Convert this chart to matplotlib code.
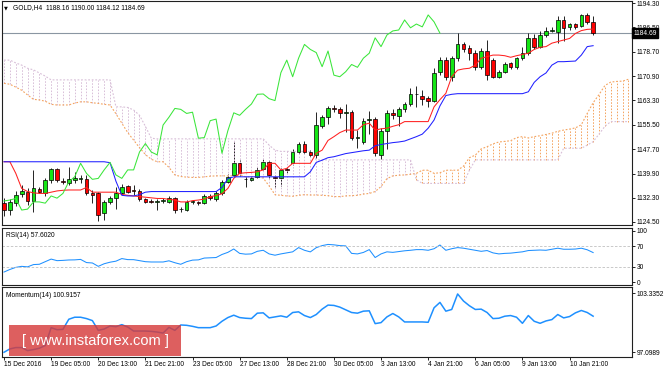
import numpy as np
import matplotlib.pyplot as plt
from matplotlib.patches import Rectangle

plt.rcParams['font.family'] = ['Liberation Sans', 'DejaVu Sans']

# GOLD H4 candles, bar 0 = 15 Dec 2016 21:00
opens = [
    1130.6, 1128.2, 1130.6, 1133.4, 1134.2, 1131.2, 1135.0, 1133.6, 1137.9, 1141.3,
    1137.6, 1136.8, 1137.9, 1138.2, 1138.2, 1133.6, 1133.6, 1127.3, 1130.9, 1132.0,
    1133.6, 1135.9, 1134.4, 1134.4, 1131.7, 1131.3, 1131.0, 1131.2, 1131.0, 1132.0,
    1128.5, 1128.3, 1130.8, 1130.7, 1130.6, 1132.8, 1131.8, 1133.6, 1137.3, 1139.5,
    1143.2, 1138.3, 1137.9, 1138.9, 1141.3, 1143.5, 1138.9, 1138.4, 1141.5, 1143.2,
    1146.8, 1149.5, 1146.8, 1145.9, 1155.2, 1157.9, 1160.9, 1160.4, 1159.3, 1159.6,
    1151.2, 1150.1, 1156.9, 1157.2, 1145.8, 1153.6, 1159.3, 1158.3, 1160.4, 1162.1,
    1165.2, 1164.7, 1164.0, 1163.2, 1172.3, 1176.1, 1170.8, 1176.7, 1181.1, 1180.0,
    1178.5, 1174.0, 1179.0, 1176.1, 1170.8, 1172.4, 1175.1, 1173.8, 1176.7, 1178.3,
    1183.2, 1180.4, 1184.1, 1185.5, 1185.2, 1188.9, 1186.6, 1187.5, 1187.1, 1190.5,
    1188.16,
]
highs = [
    1132.1, 1131.8, 1134.5, 1136.2, 1135.2, 1141.1, 1135.8, 1138.4, 1141.8, 1141.6,
    1138.6, 1142.1, 1140.5, 1139.4, 1139.6, 1134.8, 1134.0, 1131.6, 1132.8, 1135.8,
    1136.5, 1136.4, 1136.4, 1135.0, 1132.2, 1131.8, 1131.8, 1132.2, 1132.8, 1132.6,
    1129.3, 1131.4, 1131.6, 1131.2, 1133.4, 1133.3, 1134.5, 1137.8, 1139.8, 1150.1,
    1144.2, 1139.0, 1139.2, 1142.0, 1144.5, 1144.2, 1139.5, 1141.8, 1142.0, 1147.8,
    1150.0, 1150.4, 1147.6, 1159.6, 1158.6, 1161.6, 1161.8, 1161.0, 1162.2, 1160.2,
    1153.9, 1157.7, 1159.9, 1158.0, 1154.6, 1160.3, 1160.5, 1161.0, 1162.6, 1167.3,
    1167.8, 1166.5, 1164.8, 1173.5, 1177.0, 1177.2, 1177.5, 1184.6, 1182.0, 1181.0,
    1179.3, 1179.8, 1182.6, 1176.8, 1173.0, 1175.4, 1175.6, 1177.2, 1180.4, 1184.7,
    1184.4, 1185.3, 1186.5, 1186.5, 1190.2, 1190.0, 1187.8, 1187.9, 1190.8, 1191.0,
    1190.00,
]
lows = [
    1126.4, 1126.8, 1129.5, 1132.6, 1130.0, 1127.7, 1133.6, 1132.8, 1137.0, 1137.2,
    1136.5, 1136.3, 1137.0, 1137.0, 1133.0, 1130.6, 1124.8, 1125.2, 1130.2, 1128.6,
    1133.0, 1133.8, 1133.2, 1131.2, 1130.5, 1130.5, 1128.3, 1130.6, 1130.4, 1127.4,
    1127.6, 1128.0, 1130.2, 1129.8, 1130.2, 1131.5, 1131.2, 1133.0, 1136.8, 1138.8,
    1139.3, 1135.6, 1137.5, 1138.5, 1141.0, 1138.5, 1135.8, 1136.0, 1140.2, 1142.6,
    1146.2, 1146.2, 1145.2, 1145.0, 1154.4, 1155.8, 1159.6, 1157.6, 1153.3, 1150.6,
    1148.0, 1149.2, 1152.5, 1145.4, 1144.6, 1147.8, 1157.2, 1155.0, 1159.6, 1161.5,
    1161.2, 1161.8, 1161.2, 1162.8, 1171.3, 1169.8, 1169.5, 1175.8, 1178.6, 1176.0,
    1172.8, 1173.2, 1169.8, 1170.3, 1170.3, 1172.0, 1173.2, 1173.3, 1176.2, 1177.8,
    1179.6, 1179.9, 1183.6, 1184.9, 1181.5, 1182.2, 1185.6, 1186.0, 1186.6, 1187.6,
    1184.12,
]
closes = [
    1128.2, 1130.9, 1133.1, 1134.3, 1131.2, 1135.3, 1134.2, 1137.9, 1141.3, 1137.9,
    1137.2, 1138.2, 1138.4, 1138.3, 1133.6, 1133.0, 1126.7, 1131.0, 1132.1, 1133.7,
    1135.7, 1134.2, 1134.3, 1131.7, 1131.0, 1130.9, 1131.2, 1131.5, 1132.0, 1128.3,
    1128.6, 1130.9, 1130.9, 1130.5, 1132.8, 1132.1, 1133.6, 1137.3, 1138.9, 1143.2,
    1140.0, 1138.1, 1138.4, 1141.1, 1143.5, 1139.5, 1138.4, 1141.1, 1141.1, 1146.8,
    1149.5, 1146.8, 1145.9, 1155.4, 1157.9, 1160.7, 1160.4, 1159.1, 1159.5, 1151.2,
    1151.4, 1156.8, 1157.3, 1146.4, 1153.6, 1159.3, 1158.5, 1160.4, 1162.1, 1165.2,
    1165.3, 1163.8, 1163.2, 1172.1, 1176.1, 1170.8, 1176.7, 1181.1, 1179.5, 1178.5,
    1174.0, 1179.0, 1171.3, 1170.8, 1172.4, 1174.7, 1173.8, 1176.7, 1178.3, 1183.2,
    1180.4, 1184.1, 1185.4, 1185.7, 1188.9, 1186.4, 1187.6, 1186.7, 1190.5, 1188.3,
    1184.69,
]

# Ichimoku lines
tenkan = [
    1143.7, 1143.7, 1140.0, 1135.2, 1134.2, 1133.8, 1133.6, 1133.6, 1134.0, 1134.4,
    1134.6, 1134.7, 1134.7, 1134.7, 1135.5, 1134.0, 1134.0, 1134.0, 1134.0, 1134.0,
    1133.3, 1133.0, 1132.8, 1132.6, 1132.4, 1132.2, 1132.0, 1132.0, 1131.7, 1131.5,
    1130.9, 1130.9, 1131.3, 1131.5, 1131.8, 1132.6, 1132.9, 1133.5, 1135.2, 1138.4,
    1140.0, 1140.2, 1140.3, 1140.5, 1141.1, 1143.2, 1143.2, 1141.1, 1141.6, 1143.2,
    1143.2, 1143.2, 1143.2, 1146.4, 1147.4, 1150.5, 1151.7, 1153.0, 1153.8, 1153.8,
    1153.8, 1155.5, 1156.0, 1153.8, 1154.2, 1154.4, 1155.0, 1155.5, 1156.5, 1156.5,
    1156.5, 1156.5, 1156.5, 1161.2, 1163.5, 1165.5, 1170.8, 1172.9, 1173.3, 1173.5,
    1174.5, 1176.7, 1177.2, 1177.7, 1177.7, 1177.5, 1177.0, 1177.5, 1177.9, 1178.3,
    1179.5, 1180.2, 1180.4, 1181.5, 1182.0, 1182.5, 1183.0, 1184.6, 1185.5, 1185.9,
    1186.0,
]
kijun = [
    1143.7, 1143.7, 1143.7, 1143.7, 1143.7, 1143.7, 1143.7, 1143.7, 1143.7, 1143.7,
    1143.7, 1143.7, 1143.7, 1143.7, 1143.7, 1143.7, 1143.7, 1143.7, 1143.4, 1137.5,
    1133.0, 1132.8, 1132.8, 1133.2, 1134.0, 1134.2, 1134.2, 1134.2, 1134.2, 1134.2,
    1134.2, 1134.2, 1134.2, 1134.2, 1134.2, 1134.2, 1134.2, 1135.5, 1138.3, 1138.9,
    1138.9, 1138.9, 1138.9, 1138.9, 1138.9, 1138.9, 1138.9, 1138.9, 1138.9, 1138.9,
    1138.9, 1138.9, 1140.5, 1143.5, 1144.2, 1145.0, 1145.3, 1145.8, 1146.3, 1146.6,
    1146.9, 1147.2, 1147.4, 1148.8, 1149.2, 1149.5, 1149.8, 1150.0, 1150.3, 1151.0,
    1151.7, 1152.5, 1154.4, 1157.0, 1161.5, 1164.8, 1165.2, 1165.4, 1165.4, 1165.4,
    1165.4, 1165.4, 1165.4, 1165.4, 1165.4, 1165.4, 1165.4, 1165.4, 1165.4, 1166.0,
    1169.0, 1170.8, 1172.0, 1174.5, 1175.6, 1175.6, 1175.7, 1175.8, 1177.7, 1180.4,
    1180.7,
]
span_a = [
    1168.7, 1168.4, 1167.5, 1166.5, 1165.0, 1163.6, 1163.4, 1163.0, 1162.0, 1161.8,
    1161.8, 1161.8, 1162.4, 1162.8, 1162.8, 1162.5, 1162.3, 1162.0, 1161.8, 1159.0,
    1156.0, 1153.0, 1150.6, 1148.2, 1146.0, 1144.5, 1143.7, 1143.7, 1141.9, 1139.5,
    1139.0, 1138.8, 1138.7, 1138.7, 1138.9, 1139.1, 1139.2, 1139.2, 1139.2, 1139.2,
    1139.6, 1138.9, 1138.9, 1138.9, 1138.5, 1136.0, 1133.2, 1133.0, 1132.8, 1132.7,
    1133.0, 1133.2, 1133.1, 1133.1, 1133.0, 1132.9, 1132.6, 1132.6, 1132.8, 1132.9,
    1133.0, 1133.4, 1133.6, 1134.2, 1135.8, 1138.3, 1139.2, 1139.4, 1139.5, 1139.7,
    1140.0, 1141.0, 1141.0, 1140.0, 1140.2, 1141.0, 1141.0, 1141.0, 1142.3, 1145.0,
    1145.8, 1147.8, 1148.5, 1149.4, 1150.0, 1150.2, 1150.4, 1151.4, 1151.7, 1151.3,
    1151.7, 1152.0, 1152.4, 1152.8, 1153.4, 1153.8, 1154.1, 1154.5, 1155.5, 1159.1,
    1162.5, 1165.1, 1168.0, 1169.1, 1169.3, 1169.4, 1170.0,
]
span_b = [
    1176.1, 1176.1, 1175.2, 1174.5, 1173.5, 1173.0, 1172.0, 1171.0, 1169.8, 1169.8,
    1169.8, 1169.8, 1169.8, 1169.8, 1169.8, 1169.8, 1169.8, 1169.8, 1169.8, 1161.2,
    1161.2, 1161.0, 1160.2, 1158.5, 1155.0, 1151.2, 1151.0, 1151.0, 1151.0, 1151.0,
    1151.0, 1151.0, 1151.0, 1151.0, 1151.0, 1151.0, 1151.0, 1151.0, 1151.0, 1151.0,
    1151.0, 1151.0, 1151.0, 1151.0, 1151.0, 1149.0, 1147.4, 1147.0, 1147.0, 1147.0,
    1147.0, 1147.0, 1147.0, 1144.3, 1144.3, 1144.3, 1144.3, 1144.3, 1144.3, 1144.3,
    1144.3, 1144.3, 1144.3, 1144.3, 1144.3, 1144.3, 1144.3, 1144.3, 1144.3, 1144.3,
    1138.0, 1136.8, 1136.8, 1136.8, 1136.8, 1136.8, 1136.8, 1136.8, 1136.8, 1141.0,
    1144.3, 1144.3, 1144.3, 1144.3, 1144.3, 1144.3, 1144.3, 1144.3, 1144.3, 1144.3,
    1144.3, 1144.3, 1144.3, 1144.3, 1144.3, 1148.0, 1148.0, 1148.0, 1148.0, 1149.0,
    1150.1, 1152.5, 1155.0, 1156.5, 1156.5, 1156.5, 1156.5,
]

rsi = [
    20, 25, 29, 31, 30, 34.4, 35, 40, 45, 42,
    42.5, 43.3, 43.5, 44.4, 38.3, 37.5, 31, 36, 39, 41,
    46, 44, 43.9, 42, 40, 39.4, 39.4, 39.4, 41.7, 38,
    35, 40, 43, 43.5, 47, 47.5, 48, 53.9, 58, 64.5,
    56, 54.5, 55, 60, 62, 55, 52.5, 55, 57, 59,
    67.2, 62, 58.9, 67, 71, 73.3, 72.5, 71, 70.5, 56,
    55, 57.8, 63.3, 48, 55, 59, 58, 59.5, 61, 62,
    63.3, 63.3, 62, 65, 72.2, 62, 65, 67.2, 66, 64,
    62, 60, 61.5, 57, 55, 56, 56.5, 57.8, 59, 61.5,
    62, 62.5, 62, 64, 66, 64, 64, 64.4, 66, 63,
    57.6,
]
momentum = [
    97.10, 97.455, 97.597, 97.597, 97.276, 97.383, 97.526, 97.811, 99.700, 99.486,
    99.522, 100.591, 100.805, 100.805, 100.662, 100.449, 99.415, 99.557, 99.878, 99.807,
    100.021, 99.771, 99.344, 99.344, 99.344, 99.308, 99.237, 99.130, 99.735, 99.415,
    99.985, 99.950, 99.842, 99.700, 99.700, 99.700, 99.878, 100.377, 100.769, 101.019,
    100.769, 100.698, 100.662, 101.233, 101.268, 100.734, 100.840, 100.947, 100.805, 101.304,
    101.375, 100.983, 100.769, 101.090, 101.660, 102.088, 102.052, 101.874, 101.589, 101.304,
    101.233, 101.446, 101.482, 100.128, 100.235, 100.840, 101.197, 100.840, 100.306, 100.306,
    100.306, 100.306, 100.270, 101.803, 102.373, 101.446, 101.625, 103.264, 102.516, 102.017,
    101.625, 101.660, 101.304, 100.662, 100.698, 100.912, 100.983, 100.805, 100.163, 100.983,
    100.377, 100.163, 100.413, 100.555, 101.090, 100.734, 100.876, 101.268, 101.518, 101.304,
    100.916,
]

price_ticks = [1194.30, 1186.50, 1178.70, 1170.90, 1163.30, 1155.50, 1147.70, 1139.90, 1132.30, 1124.50]
date_ticks = [0, 8, 16, 24, 32, 40, 48, 56, 64, 72, 80, 88, 96]
date_labels = ["15 Dec 2016", "19 Dec 05:00", "20 Dec 13:00", "21 Dec 21:00", "23 Dec 05:00",
               "27 Dec 13:00", "28 Dec 21:00", "30 Dec 05:00", "3 Jan 13:00", "4 Jan 21:00",
               "6 Jan 05:00", "9 Jan 13:00", "10 Jan 21:00"]
chikou_shift = 26
last_price = 1184.69

W, H = 664, 369
FS = 4.8
fig = plt.figure(figsize=(W / 100, H / 100), dpi=100)


def px_axes(x0, y0, x1, y1):
    return fig.add_axes([x0 / W, 1 - y1 / H, (x1 - x0) / W, (y1 - y0) / H])


def style_panel(a):
    a.set_xlim(-0.34, 106.6)
    a.yaxis.tick_right()
    a.tick_params(axis='y', length=2.2, width=0.6, pad=1, labelsize=FS, colors='black')
    a.tick_params(axis='x', bottom=False, labelbottom=False)
    for s in a.spines.values():
        s.set_color('#202020')
        s.set_linewidth(0.8)


ax = px_axes(2, 1, 632, 225)
ax_rsi = px_axes(2, 228, 632, 285)
ax_mom = px_axes(2, 287, 632, 357)
for a in (ax, ax_rsi, ax_mom):
    style_panel(a)

bars = np.arange(len(closes))
o, h, l, c = map(np.array, (opens, highs, lows, closes))

# cloud: dotted histogram between the two spans
cx = np.arange(len(span_a))
sa, sb = np.array(span_a), np.array(span_b)
up = sa >= sb
dot = (0, (1.6, 1.6))
ax.vlines(cx[up], sb[up], sa[up], colors='#f4a460', linestyles=[dot], lw=0.7, zorder=2)
ax.vlines(cx[~up], sa[~up], sb[~up], colors='#d8bfd8', linestyles=[dot], lw=0.7, zorder=2)
ax.plot(cx, sa, color='#f4a460', ls=dot, lw=0.8, zorder=2)
ax.plot(cx, sb, color='#d8bfd8', ls=dot, lw=0.8, zorder=2)

ax.axhline(last_price, color='#8a96a2', lw=0.8, zorder=1)

# candles
ax.vlines(bars, l, h, color='black', lw=0.6, zorder=1.5)
body_low = np.minimum(o, c)
body_h = np.maximum(np.abs(c - o), 0.25)
body_col = np.where(c >= o, '#14e614', '#ff0000')
ax.bar(bars, body_h, bottom=body_low, width=0.62, color=body_col,
       edgecolor='black', linewidth=0.5, zorder=3)

ax.plot(bars, tenkan, color='#ff2020', lw=0.75, zorder=4)
ax.plot(bars, kijun, color='#2020ff', lw=0.75, zorder=4)
ax.plot(bars[:len(closes) - chikou_shift], c[chikou_shift:], color='#3ae63a', lw=0.75, zorder=4)

ax.set_ylim(1123.54, 1194.94)
ax.set_yticks(price_ticks)
ax.set_yticklabels(['%.2f' % v for v in price_ticks])
ax.text(1.002, last_price, '%.2f' % last_price, transform=ax.get_yaxis_transform(),
        color='white', fontsize=FS, va='center', ha='left', zorder=10, clip_on=False,
        bbox=dict(facecolor='black', edgecolor='black', pad=1.0))

fig.text(4 / W, 1 - 8 / H, '\u25bc', fontsize=3.6, va='center', ha='left', family='DejaVu Sans')
fig.text(13 / W, 1 - 8 / H, 'GOLD,H4  1188.16 1190.00 1184.12 1184.69', fontsize=FS,
         va='center', ha='left')

# RSI panel
ax_rsi.plot(bars, rsi, color='#1e90ff', lw=0.75)
for lvl in (70, 30):
    ax_rsi.axhline(lvl, color='#c0c0c0', lw=0.6, ls=(0, (3, 2)))
ax_rsi.set_ylim(-5, 105)
ax_rsi.set_yticks([100, 70, 30, 0])
ax_rsi.set_yticklabels(['100', '70', '30', '0'])
ax_rsi.text(4 / 630, 0.93, 'RSI(14) 57.6020', transform=ax_rsi.transAxes, fontsize=FS,
            va='top', ha='left')

# Momentum panel
ax_mom.plot(bars, momentum, color='#1e90ff', lw=1.1)
ax_mom.set_ylim(96.6, 104.0)
ax_mom.set_yticks([103.3352, 97.0989])
ax_mom.set_yticklabels(['103.3352', '97.0989'])
ax_mom.text(4 / 630, 0.93, 'Momentum(14) 100.9157', transform=ax_mom.transAxes, fontsize=FS,
            va='top', ha='left')

ax_mom.set_xticks(date_ticks)
ax_mom.set_xticklabels(date_labels)
ax_mom.tick_params(axis='x', bottom=True, labelbottom=True, length=2.2, width=0.6,
                   pad=1, labelsize=FS)
for lbl in ax_mom.get_xticklabels():
    lbl.set_ha('left')

# watermark
fig.add_artist(Rectangle((9 / W, 1 - 356 / H), 172 / W, 31 / H, transform=fig.transFigure,
                         facecolor='#d63c3c', edgecolor='none', alpha=0.82, zorder=20))
fig.text(95 / W, 1 - 340.5 / H, '[ www.instaforex.com ]', color='white', fontsize=10.5,
         ha='center', va='center', zorder=21)

fig.savefig('out.png', dpi=100)
